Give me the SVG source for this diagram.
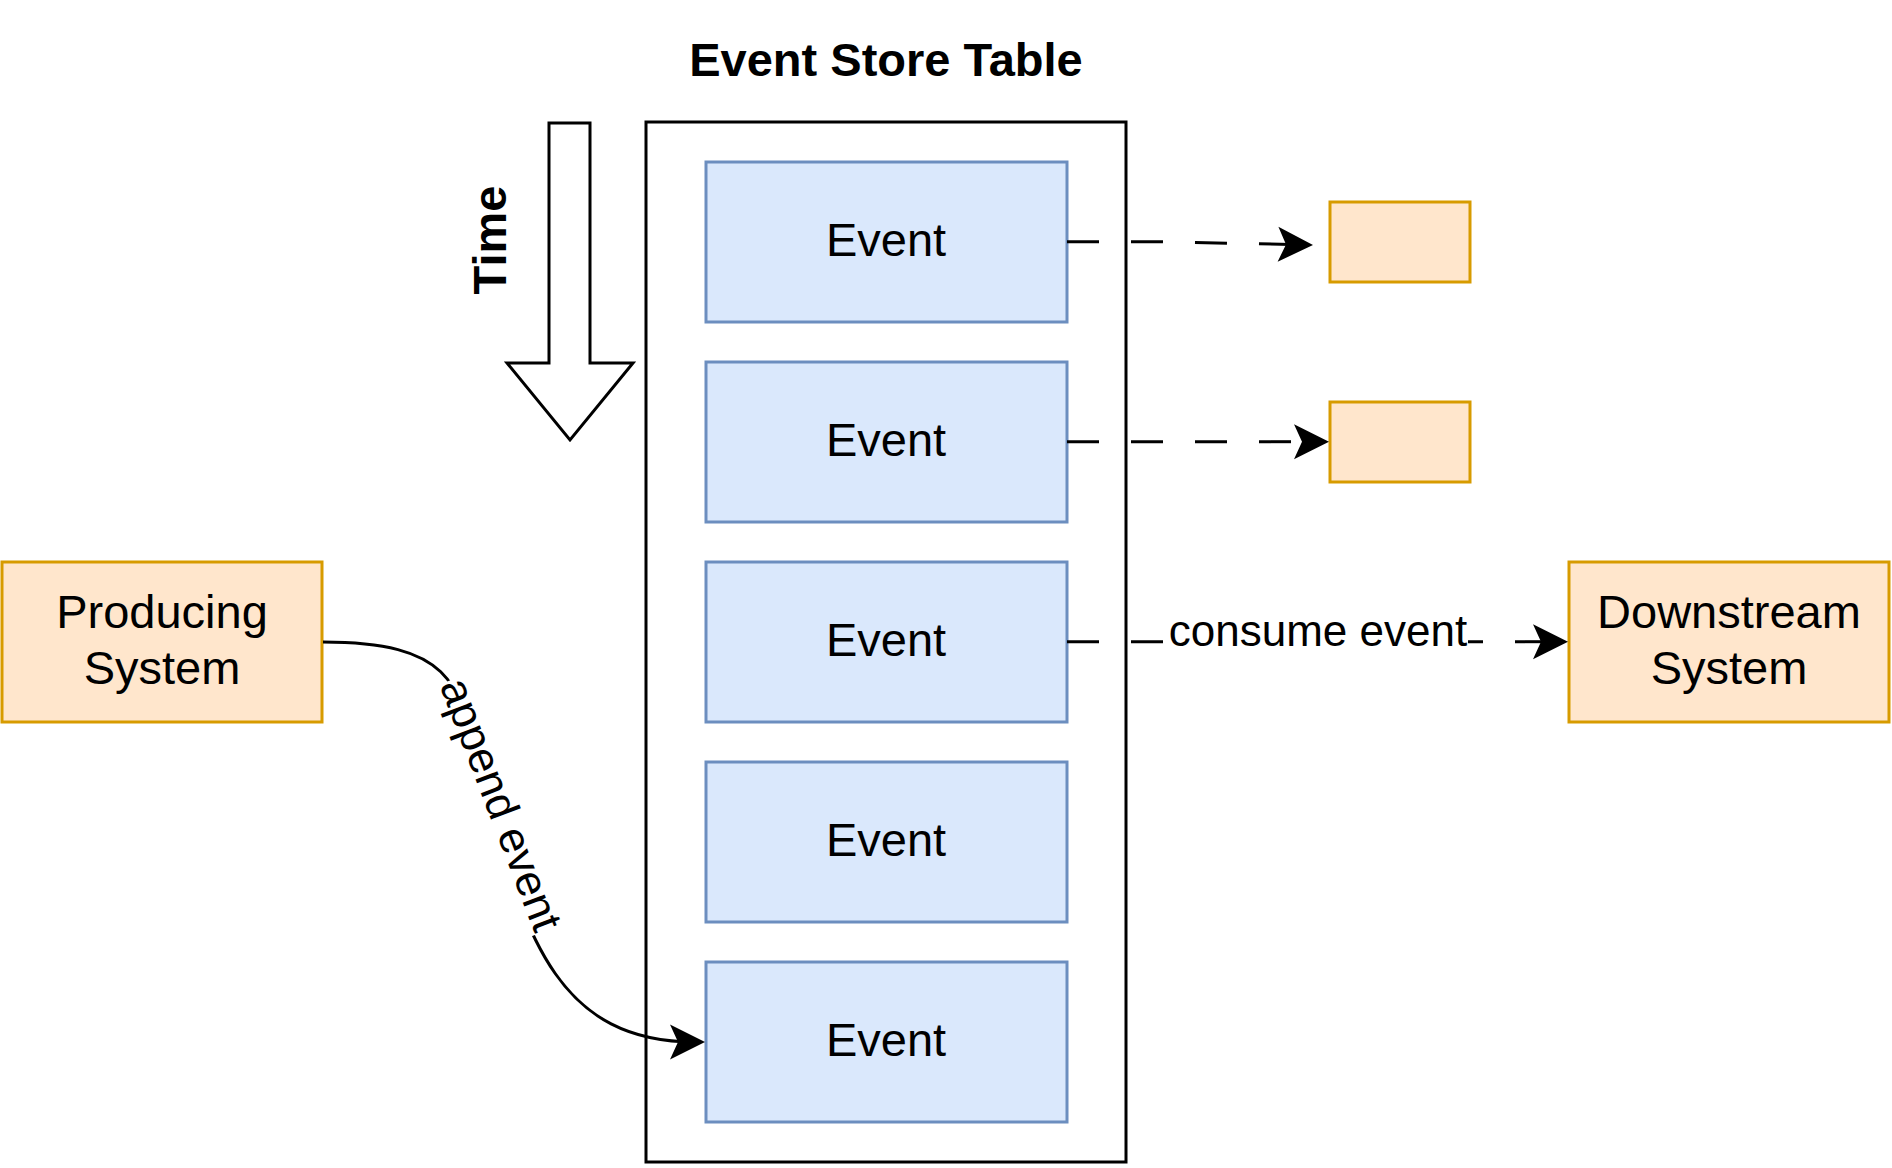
<svg xmlns="http://www.w3.org/2000/svg" width="1892" height="1168" viewBox="0 0 1892 1168">
  <style>
    text { font-family: "Liberation Sans", Arial, Helvetica, sans-serif; fill: #000; }
    .lbl { font-size: 47px; text-anchor: middle; }
    .bold { font-weight: bold; }
    .elbl { font-size: 44px; text-anchor: middle; }
    .event { fill: #dae8fc; stroke: #6c8ebf; stroke-width: 3; }
    .sys { fill: #ffe6cc; stroke: #d79b00; stroke-width: 3; }
    .edge { fill: none; stroke: #000; stroke-width: 3; }
    .dashed { stroke-dasharray: 32 32; }
  </style>
  <defs>
    <marker id="arrow" markerUnits="userSpaceOnUse" markerWidth="40" markerHeight="40" viewBox="-30 -20 40 40" refX="0" refY="0" orient="auto" overflow="visible">
      <path d="M10,0 L-25,-17.5 L-17,0 L-25,17.5 Z" fill="#000"/>
    </marker>
  </defs>
  <rect width="1892" height="1168" fill="#fff"/>

  <g id="title">
    <text class="lbl bold" x="886" y="76">Event Store Table</text>
  </g>

  <g id="time-arrow">
    <polygon points="549,123 590,123 590,363 633,363 570,440 507,363 549,363" fill="#fff" stroke="#000" stroke-width="3" stroke-linejoin="miter"/>
  </g>
  <g id="time-label">
    <text class="lbl bold" transform="translate(506,240) rotate(-90)">Time</text>
  </g>

  <g id="event-store-table">
    <rect x="646" y="122" width="480" height="1040" fill="#fff" stroke="#000" stroke-width="3"/>
  </g>

  <g id="event-1">
    <rect class="event" x="706" y="162" width="361" height="160"/>
    <text class="lbl" x="886" y="256">Event</text>
  </g>
  <g id="event-2">
    <rect class="event" x="706" y="362" width="361" height="160"/>
    <text class="lbl" x="886" y="456">Event</text>
  </g>
  <g id="event-3">
    <rect class="event" x="706" y="562" width="361" height="160"/>
    <text class="lbl" x="886" y="656">Event</text>
  </g>
  <g id="event-4">
    <rect class="event" x="706" y="762" width="361" height="160"/>
    <text class="lbl" x="886" y="856">Event</text>
  </g>
  <g id="event-5">
    <rect class="event" x="706" y="962" width="361" height="160"/>
    <text class="lbl" x="886" y="1056">Event</text>
  </g>

  <g id="producing-system">
    <rect class="sys" x="2" y="562" width="320" height="160"/>
    <text class="lbl" x="162" y="628">Producing</text>
    <text class="lbl" x="162" y="684">System</text>
  </g>

  <g id="downstream-system">
    <rect class="sys" x="1569" y="562" width="320" height="160"/>
    <text class="lbl" x="1729" y="628">Downstream</text>
    <text class="lbl" x="1729" y="684">System</text>
  </g>

  <g id="consumer-1">
    <rect class="sys" x="1330" y="202" width="140" height="80"/>
  </g>
  <g id="consumer-2">
    <rect class="sys" x="1330" y="402" width="140" height="80"/>
  </g>

  <g id="connectors">
    <path class="edge dashed" d="M1067,241.7 L1162,241.7 L1303,244.8" marker-end="url(#arrow)"/>
    <path class="edge dashed" d="M1067,441.7 L1319,441.7" marker-end="url(#arrow)"/>
    <path class="edge dashed" d="M1067,641.7 L1558,641.7" marker-end="url(#arrow)"/>
    <rect x="1166" y="618" width="302" height="40" fill="#fff"/>
    <text class="elbl" x="1318" y="646">consume event</text>

    <path class="edge" d="M323,642 C473,642 458.7,700 487,800 C526.6,940 560,1042 695,1042" marker-end="url(#arrow)"/>
    <g transform="translate(497.5,805.8) rotate(69)">
      <rect x="-134" y="-24" width="268" height="50" fill="#fff"/>
      <text class="elbl" x="0" y="11">append event</text>
    </g>
  </g>
</svg>
